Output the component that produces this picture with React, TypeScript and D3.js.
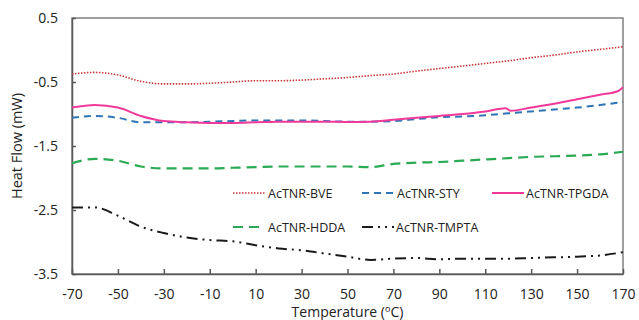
import React, { useEffect, useRef } from 'react'
import * as d3 from 'd3'

// temperatures (°C) shared by most series
const temps = [-70, -60, -50, -40, -30, -20, -10, 0, 10, 20, 30, 40, 50, 60, 70, 80, 90, 100, 110, 120, 130, 140, 150, 160, 170]

const bve = [-0.375, -0.35, -0.39, -0.49, -0.53, -0.53, -0.52, -0.5, -0.48, -0.48, -0.47, -0.45, -0.43, -0.4, -0.375, -0.33, -0.29, -0.25, -0.21, -0.17, -0.12, -0.08, -0.03, 0.01, 0.05]
const sty = [-1.06, -1.03, -1.06, -1.13, -1.13, -1.13, -1.12, -1.11, -1.1, -1.1, -1.1, -1.11, -1.12, -1.12, -1.11, -1.08, -1.05, -1.04, -1.02, -0.99, -0.96, -0.93, -0.9, -0.86, -0.81]
const hdda = [-1.77, -1.7, -1.73, -1.82, -1.85, -1.85, -1.85, -1.84, -1.83, -1.82, -1.82, -1.82, -1.82, -1.83, -1.78, -1.76, -1.75, -1.73, -1.71, -1.69, -1.67, -1.66, -1.65, -1.63, -1.59]
const tmpta = [-2.46, -2.46, -2.59, -2.76, -2.86, -2.93, -2.97, -2.99, -3.05, -3.1, -3.13, -3.18, -3.23, -3.28, -3.26, -3.25, -3.27, -3.26, -3.26, -3.26, -3.25, -3.24, -3.23, -3.21, -3.16]

// TPGDA has a little kink near 120 °C, so it keeps its own temperatures
const tpgdaTemps = [-70, -60, -50, -40, -30, -20, -10, 0, 10, 20, 30, 40, 50, 60, 70, 80, 90, 100, 110, 119, 121, 130, 140, 150, 160, 168, 170]
const tpgda = [-0.9, -0.86, -0.9, -1.03, -1.11, -1.13, -1.14, -1.14, -1.13, -1.12, -1.12, -1.12, -1.125, -1.12, -1.09, -1.06, -1.03, -1.0, -0.96, -0.91, -0.95, -0.9, -0.84, -0.77, -0.7, -0.64, -0.58]

const xTicks = [-70, -50, -30, -10, 10, 30, 50, 70, 90, 110, 130, 150, 170]
const yTicks = [0.5, -0.5, -1.5, -2.5, -3.5]

const series = [
  { name: 'AcTNR-BVE', t: temps, v: bve, color: '#c8373a', width: 1.6, dash: '1.5,1.5' },
  { name: 'AcTNR-STY', t: temps, v: sty, color: '#2e75b6', width: 2, dash: '7,5' },
  { name: 'AcTNR-TPGDA', t: tpgdaTemps, v: tpgda, color: '#f0399a', width: 2, dash: null },
  { name: 'AcTNR-HDDA', t: temps, v: hdda, color: '#2aaa55', width: 2.2, dash: '10,6' },
  { name: 'AcTNR-TMPTA', t: temps, v: tmpta, color: '#1a1a1a', width: 2, dash: '11,5,2,5,2,5' },
]

const font = '"Open Sans", sans-serif'
const hyphen = (s: string) => s.replace('\u2212', '-')

export default function App() {
  const ref = useRef<SVGSVGElement | null>(null)

  useEffect(() => {
    const W = 639
    const H = 320
    const m = { left: 72, right: 16, top: 18, bottom: 46 }
    const svg = d3.select(ref.current)
    svg.selectAll('*').remove()
    svg.attr('width', W).attr('height', H)

    const x = d3.scaleLinear().domain([-70, 170]).range([m.left, W - m.right])
    const y = d3.scaleLinear().domain([-3.5, 0.5]).range([H - m.bottom, m.top])

    // plot frame
    svg.append('rect')
      .attr('x', x(-70)).attr('y', y(0.5))
      .attr('width', x(170) - x(-70)).attr('height', y(-3.5) - y(0.5))
      .attr('fill', 'none').attr('stroke', '#808080').attr('stroke-width', 1.5)

    // bottom axis
    const gx = svg.append('g').attr('transform', `translate(0,${y(-3.5)})`)
      .call(d3.axisBottom(x).tickValues(xTicks).tickFormat(d => hyphen(String(d))).tickSizeInner(-5).tickSizeOuter(0).tickPadding(15))
    gx.select('.domain').attr('stroke', '#595959').attr('stroke-width', 1.5)
    gx.selectAll('.tick line').attr('stroke', '#595959').attr('stroke-width', 1.5)
    gx.selectAll('.tick text').attr('font-family', font).attr('font-size', 14).attr('fill', '#222')

    // left axis
    const gy = svg.append('g').attr('transform', `translate(${x(-70)},0)`)
      .call(d3.axisLeft(y).tickValues(yTicks).tickFormat(d => hyphen(d3.format('.1f')(d as number))).tickSizeInner(-4).tickSizeOuter(0).tickPadding(14))
    gy.select('.domain').attr('stroke', '#595959').attr('stroke-width', 1.5)
    gy.selectAll('.tick line').attr('stroke', '#595959').attr('stroke-width', 1.5)
    gy.selectAll('.tick text').attr('font-family', font).attr('font-size', 14).attr('fill', '#222')

    // series lines
    const line = d3.line<[number, number]>()
      .x(d => x(d[0]))
      .y(d => y(d[1]))
      .curve(d3.curveMonotoneX)

    series.forEach(s => {
      const pts: [number, number][] = s.t.map((t, i) => [t, s.v[i]])
      const p = svg.append('path')
        .attr('d', line(pts))
        .attr('fill', 'none')
        .attr('stroke', s.color)
        .attr('stroke-width', s.width)
      if (s.dash) p.attr('stroke-dasharray', s.dash)
    })

    // legend
    const legendPos = [
      [233, 193], [362, 193], [492, 193],
      [233, 227], [362, 227],
    ]
    series.forEach((s, i) => {
      const [lx, ly] = legendPos[i]
      const g = svg.append('g').attr('transform', `translate(${lx},${ly})`)
      const l = g.append('line')
        .attr('x1', 0).attr('x2', 32).attr('y1', 0).attr('y2', 0)
        .attr('stroke', s.color).attr('stroke-width', s.width)
      if (s.dash) l.attr('stroke-dasharray', s.dash)
      g.append('text')
        .attr('x', i === 2 || i === 4 ? 34 : 35).attr('y', 0)
        .attr('dominant-baseline', 'central')
        .attr('font-family', font).attr('font-size', 12.5).attr('fill', '#222')
        .text(s.name)
    })

    // axis titles
    const xt = svg.append('text')
      .attr('x', (x(-70) + x(170)) / 2).attr('y', 317)
      .attr('text-anchor', 'middle')
      .attr('font-family', font).attr('font-size', 14).attr('fill', '#222')
    xt.append('tspan').text('Temperature (')
    xt.append('tspan').attr('font-size', 9).attr('dy', -5).text('o')
    xt.append('tspan').attr('dy', 5).text('C)')

    svg.append('text')
      .attr('transform', `translate(22,${(y(0.5) + y(-3.5)) / 2}) rotate(-90)`)
      .attr('text-anchor', 'middle')
      .attr('font-family', font).attr('font-size', 14.5).attr('fill', '#222')
      .text('Heat Flow (mW)')
  }, [])

  return (
    <div style={{ position: 'absolute', left: 0, top: 0, background: '#fff' }}>
      <svg ref={ref} style={{ display: 'block' }}></svg>
    </div>
  )
}
